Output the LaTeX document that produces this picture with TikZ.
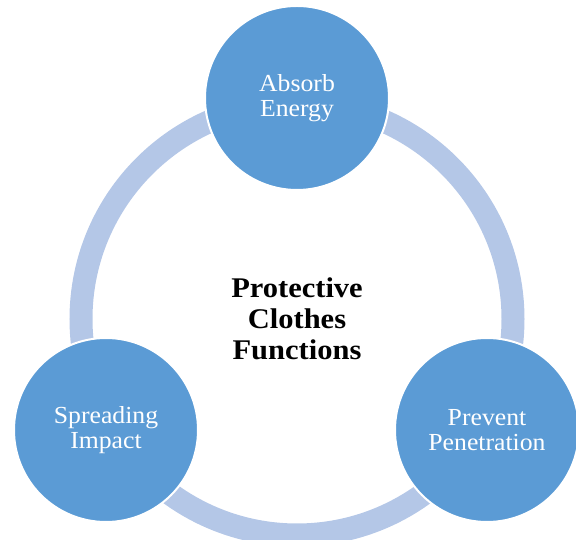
\documentclass[tikz,border=0pt]{standalone}
\usepackage{fontspec}
\setmainfont{Liberation Serif}
\newfontfamily\lblfont[FakeStretch=1.05]{Liberation Serif}
\newfontfamily\ttlfont[FakeStretch=1.07]{Liberation Serif}
\definecolor{circblue}{HTML}{5B9BD5}
\definecolor{ringblue}{HTML}{B4C7E7}
\tikzset{
  func/.style={circle, fill=circblue, draw=white, line width=2pt, minimum size=184pt,
    inner sep=0pt, align=center, text=white, font=\lblfont\fontsize{24.5}{25}\selectfont},
  ringstyle/.style={draw=ringblue, line width=23pt},
  title/.style={align=center, text=black, font=\ttlfont\bfseries\fontsize{28.5}{31}\selectfont}
}
\begin{document}
\begin{tikzpicture}[x=1pt,y=1pt]
\useasboundingbox (0,0) rectangle (576,540);
\clip (0,0) rectangle (576,540);
\coordinate (c) at (297,221);
\draw[ringstyle] (c) circle[radius=216];
\node[func] (absorb) at (297,442) {Absorb\\Energy};
\node[func] (spread) at (106,110) {Spreading\\Impact};
\node[func] (prevent) at (487,110) {Prevent\\Penetration};
\node[title] (center) at (c) {Protective\\Clothes\\Functions};
\end{tikzpicture}
\end{document}
